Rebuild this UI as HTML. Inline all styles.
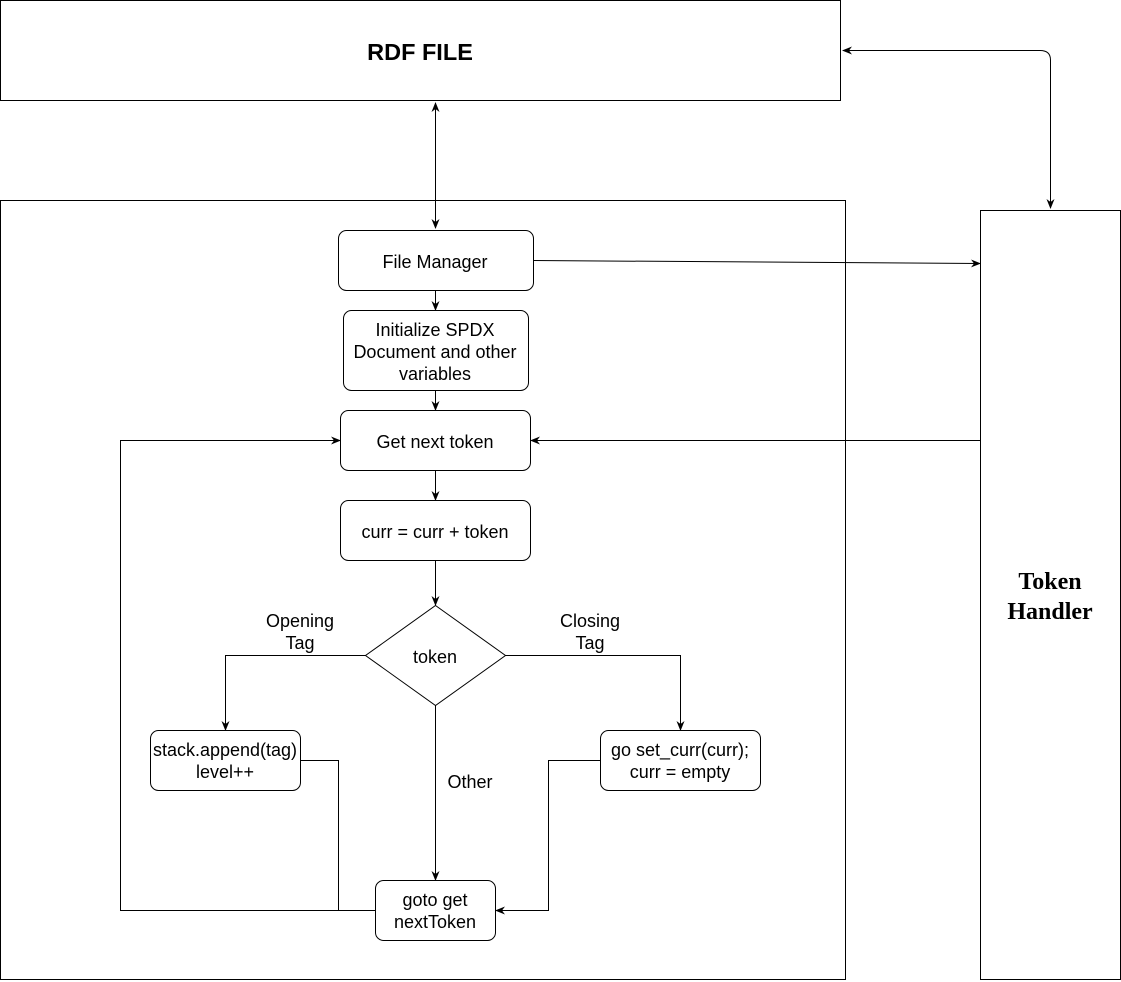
<!DOCTYPE html>
<html><head><meta charset="utf-8"><style>
html,body{margin:0;padding:0;background:#fff;}
svg{display:block;}
text{font-family:"Liberation Sans",sans-serif;font-size:18px;fill:#000;}
</style></head><body>
<svg width="1121" height="982" viewBox="0 0 1121 982" xmlns="http://www.w3.org/2000/svg">
<defs>
<marker id="a" viewBox="0 0 10 10" refX="9" refY="5" markerWidth="10" markerHeight="10" orient="auto-start-reverse" markerUnits="userSpaceOnUse">
<path d="M0,1 L10,5 L0,9 L3,5 z" fill="#000"/>
</marker>
</defs>
<g fill="none" stroke="#000" stroke-width="1">
<rect x="0.5" y="0.5" width="840" height="100"/>
<rect x="0.5" y="200.5" width="845" height="779"/>
<rect x="980.5" y="210.5" width="140" height="769"/>
<rect x="338.5" y="230.5" width="195" height="60" rx="8"/>
<rect x="343.5" y="310.5" width="185" height="80" rx="8"/>
<rect x="340.5" y="410.5" width="190" height="60" rx="8"/>
<rect x="340.5" y="500.5" width="190" height="60" rx="8"/>
<path d="M435.5,605.5 L505.5,655.5 L435.5,705.5 L365.5,655.5 Z"/>
<rect x="150.5" y="730.5" width="150" height="60" rx="8"/>
<rect x="600.5" y="730.5" width="160" height="60" rx="8"/>
<rect x="375.5" y="880.5" width="120" height="60" rx="8"/>
<path d="M1050.5,208 L1050.5,60 Q1050.5,50.5 1040,50.5 L843,50.5" marker-start="url(#a)" marker-end="url(#a)"/>
<path d="M435.5,103 L435.5,228" marker-start="url(#a)" marker-end="url(#a)"/>
<path d="M533.5,260.5 L980,263.5" marker-end="url(#a)"/>
<path d="M435.5,290.5 L435.5,310" marker-end="url(#a)"/>
<path d="M435.5,390.5 L435.5,410" marker-end="url(#a)"/>
<path d="M980.5,440.5 L531,440.5" marker-end="url(#a)"/>
<path d="M435.5,470.5 L435.5,500" marker-end="url(#a)"/>
<path d="M435.5,560.5 L435.5,605" marker-end="url(#a)"/>
<path d="M365.5,655.5 L225.5,655.5 L225.5,730" marker-end="url(#a)"/>
<path d="M505.5,655.5 L680.5,655.5 L680.5,730" marker-end="url(#a)"/>
<path d="M435.5,705.5 L435.5,880" marker-end="url(#a)"/>
<path d="M300.5,760.5 L338.5,760.5 L338.5,910.5"/>
<path d="M375.5,910.5 L120.5,910.5 L120.5,440.5 L340,440.5" marker-end="url(#a)"/>
<path d="M600.5,760.5 L548.5,760.5 L548.5,910.5 L496,910.5" marker-end="url(#a)"/>
</g>
<text x="420" y="60" text-anchor="middle" style="font-size:23.5px;font-weight:bold">RDF FILE</text>
<text x="1050" y="589" text-anchor="middle" style="font-family:'Liberation Serif',serif;font-size:24px;font-weight:bold">Token</text>
<text x="1050" y="619" text-anchor="middle" style="font-family:'Liberation Serif',serif;font-size:24px;font-weight:bold">Handler</text>
<g text-anchor="middle">
<text x="435" y="268">File Manager</text>
<text x="435" y="336">Initialize SPDX</text>
<text x="435" y="358">Document and other</text>
<text x="435" y="380">variables</text>
<text x="435" y="448">Get next token</text>
<text x="435" y="538">curr = curr + token</text>
<text x="435" y="663">token</text>
<text x="225" y="756">stack.append(tag)</text>
<text x="225" y="778">level++</text>
<text x="680" y="756">go set_curr(curr);</text>
<text x="680" y="778">curr = empty</text>
<text x="435" y="906">goto get</text>
<text x="435" y="928">nextToken</text>
<text x="300" y="627">Opening</text>
<text x="300" y="649">Tag</text>
<text x="590" y="627">Closing</text>
<text x="590" y="649">Tag</text>
<text x="470" y="788">Other</text>
</g>
</svg>
</body></html>
